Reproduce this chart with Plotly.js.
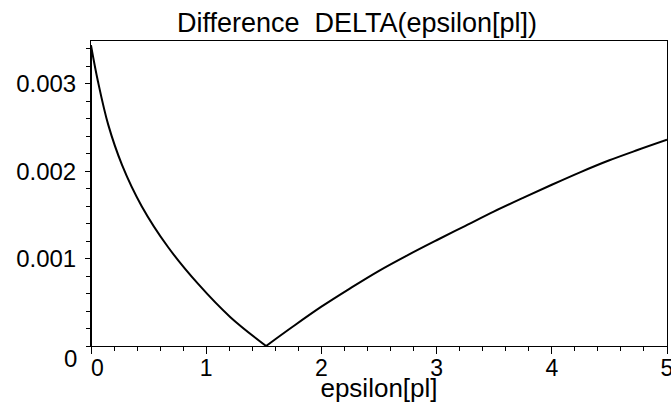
<!DOCTYPE html>
<html>
<head>
<meta charset="utf-8">
<script src="https://cdn.plot.ly/plotly-3.0.1.min.js"></script>
<style>html,body{margin:0;padding:0;background:#fff;}#chart{width:671px;height:403px;}</style>
</head>
<body>
<div id="chart"></div>
<script>
// epsilon[pl] values and DELTA values
const epsilonPl = [0, 0, 0.06, 0.15, 0.27, 0.44, 0.67, 0.93, 1.21, 1.52,
                   1.75, 2.00, 2.25, 2.50, 2.75, 3.00, 3.25, 3.50, 3.75, 4.00, 4.25, 4.50, 4.75, 5.00];
const delta = [0, 0.00344, 0.00303, 0.00253, 0.00207, 0.00160, 0.00113, 0.00071, 0.00033, 0,
               0.00022, 0.00045, 0.00066, 0.00086, 0.00104, 0.00121, 0.001375, 0.00154, 0.001695,
               0.001845, 0.00199, 0.002125, 0.002245, 0.00236];
const xTickVals = [0, 1, 2, 3, 4, 5];
const xTickText = ['\u20070', '1', '2', '3', '4', '5'];
const yTickVals = [0.001, 0.002, 0.003];
const yTickText = ['0.001', '0.002', '0.003'];
const titleText = 'Difference  DELTA(epsilon[pl])';
const xTitleText = 'epsilon[pl]';

const FONT = 'Liberation Sans, Arial, Helvetica, sans-serif';

// split the curve: vertical jump at 0, falling branch, rising branch (at the minimum)
const iMin = delta.indexOf(Math.min(...delta.slice(1)), 1);
const line = {color: '#000', width: 2};
const traces = [
  {x: epsilonPl.slice(0, 2), y: delta.slice(0, 2), line: line},
  {x: epsilonPl.slice(1, iMin + 1), y: delta.slice(1, iMin + 1), line: Object.assign({shape: 'spline', smoothing: 1}, line)},
  {x: epsilonPl.slice(iMin), y: delta.slice(iMin), line: Object.assign({shape: 'spline', smoothing: 1}, line)}
].map(t => Object.assign({type: 'scatter', mode: 'lines', hoverinfo: 'skip'}, t));

Plotly.newPlot('chart', traces, {
  width: 671,
  height: 403,
  margin: {l: 91, r: 4, t: 41, b: 57},
  paper_bgcolor: '#fff',
  plot_bgcolor: '#fff',
  showlegend: false,
  font: {family: FONT, color: '#000'},
  title: {
    text: titleText,
    font: {family: FONT, size: 27, color: '#000'},
    xref: 'container', x: 0.532, xanchor: 'center',
    yref: 'container', y: 0.943, yanchor: 'middle'
  },
  xaxis: {
    range: [0, 5],
    showgrid: false, zeroline: false,
    showline: true, linecolor: '#000', linewidth: 1, mirror: true,
    tickmode: 'array', tickvals: xTickVals, ticktext: xTickText,
    ticks: 'outside', ticklen: 7, tickwidth: 1, tickcolor: '#000',
    minor: {dtick: 0.2, tick0: 0, ticks: 'outside', ticklen: 4, tickwidth: 1, tickcolor: '#000', showgrid: false},
    tickfont: {family: FONT, size: 23, color: '#000'},
    ticklabelstandoff: -6,
    ticklabeloverflow: 'allow',
    title: {text: xTitleText, font: {family: FONT, size: 26, color: '#000'}, standoff: 0},
    automargin: false
  },
  yaxis: {
    range: [0, 0.00349],
    showgrid: false, zeroline: false,
    showline: true, linecolor: '#000', linewidth: 1, mirror: true,
    tickmode: 'array', tickvals: yTickVals, ticktext: yTickText,
    ticks: 'outside', ticklen: 5, tickwidth: 1, tickcolor: '#000',
    minor: {dtick: 0.0002, tick0: 0, ticks: 'outside', ticklen: 4, tickwidth: 1, tickcolor: '#000', showgrid: false},
    tickfont: {family: FONT, size: 24, color: '#000'},
    ticklabelstandoff: 4,
    automargin: false
  },
  annotations: [{
    text: '0', xref: 'paper', x: 0, yref: 'y', y: 0,
    xanchor: 'right', yanchor: 'middle', xshift: -12, yshift: -12,
    showarrow: false, font: {family: FONT, size: 24, color: '#000'}
  }]
}, {staticPlot: true});
</script>
</body>
</html>
